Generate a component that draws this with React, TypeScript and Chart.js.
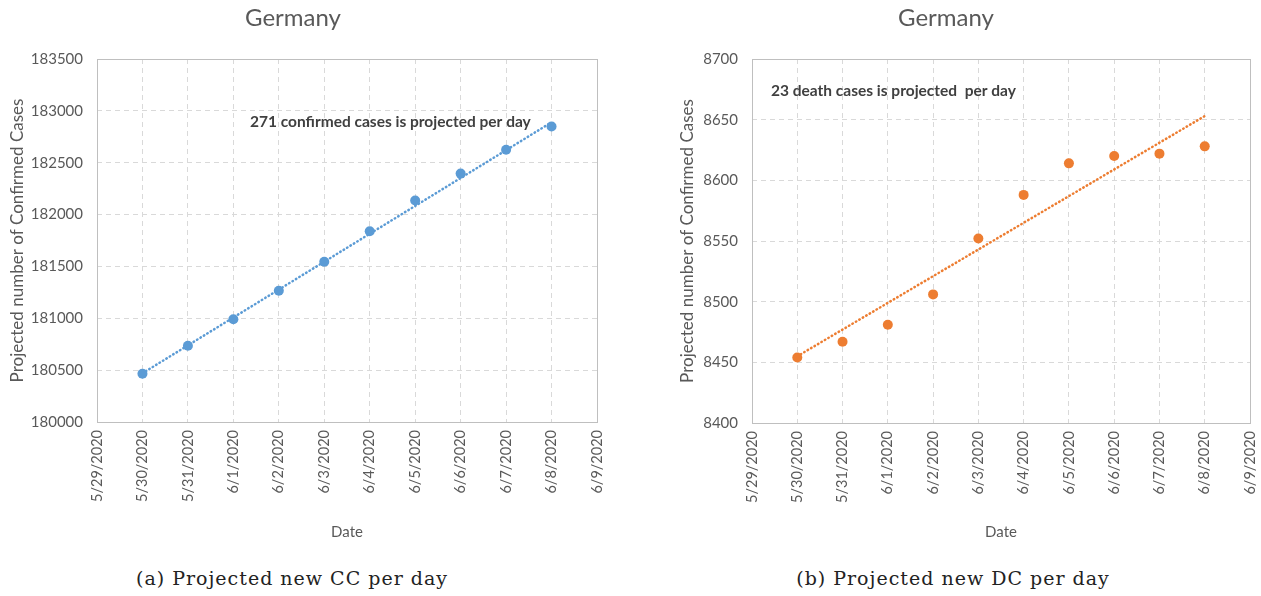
import React, { useEffect, useRef } from 'react';
import { Chart, registerables } from 'chart.js';
Chart.register(...registerables);

const dateLabels = ['5/29/2020', '5/30/2020', '5/31/2020', '6/1/2020', '6/2/2020', '6/3/2020', '6/4/2020', '6/5/2020', '6/6/2020', '6/7/2020', '6/8/2020', '6/9/2020'];

const ccDates = ['5/30/2020', '5/31/2020', '6/1/2020', '6/2/2020', '6/3/2020', '6/4/2020', '6/5/2020', '6/6/2020', '6/7/2020', '6/8/2020'];
const ccValues = [180465, 180735, 180990, 181265, 181545, 181840, 182135, 182395, 182625, 182850];
const ccTrendDates = ['5/30/2020', '6/8/2020'];
const ccTrendValues = [180470, 182890];
const ccYTicks = [180000, 180500, 181000, 181500, 182000, 182500, 183000, 183500];

const dcDates = ['5/30/2020', '5/31/2020', '6/1/2020', '6/2/2020', '6/3/2020', '6/4/2020', '6/5/2020', '6/6/2020', '6/7/2020', '6/8/2020'];
const dcValues = [8454, 8467, 8481, 8506, 8552, 8588, 8614, 8620, 8622, 8628];
const dcTrendDates = ['5/30/2020', '6/8/2020'];
const dcTrendValues = [8455, 8653];
const dcYTicks = [8400, 8450, 8500, 8550, 8600, 8650, 8700];

const FONT = 'Lato';
const GRAY = '#595959';

type PanelProps = {
  left: number;
  width: number;
  padLeft: number;
  yWidth: number;
  padRight: number;
  xHeight: number;
  titleX: number;
  note: string;
  noteDX: number;
  noteDY: number;
  color: string;
  dates: string[];
  values: number[];
  trendDates: string[];
  trendValues: number[];
  yTicks: number[];
  caption: string;
  captionX: number;
};

function Panel(p: PanelProps) {
  const ref = useRef<HTMLCanvasElement>(null);
  useEffect(() => {
    const canvas = ref.current!;
    const decor = {
      id: 'decor',
      afterDraw(chart: any) {
        const { ctx, chartArea } = chart;
        ctx.save();
        ctx.strokeStyle = '#bfbfbf';
        ctx.lineWidth = 1;
        ctx.setLineDash([]);
        ctx.strokeRect(Math.round(chartArea.left) + 0.5, Math.round(chartArea.top) + 0.5, Math.round(chartArea.right - chartArea.left), Math.round(chartArea.bottom - chartArea.top));
        ctx.fillStyle = GRAY;
        ctx.font = `24px ${FONT}`;
        ctx.textAlign = 'center';
        ctx.textBaseline = 'middle';
        ctx.fillText('Germany', p.titleX, 18);
        ctx.fillStyle = '#404040';
        ctx.font = `bold 15.5px ${FONT}`;
        ctx.textAlign = 'left';
        ctx.fillText(p.note, chartArea.left + p.noteDX, chartArea.top + p.noteDY);
        ctx.restore();
      },
    };
    const chart = new Chart(canvas, {
      type: 'scatter',
      data: {
        labels: dateLabels,
        datasets: [
          {
            data: p.dates.map((d, i) => ({ x: d, y: p.values[i] })),
            backgroundColor: p.color,
            borderWidth: 0,
            pointRadius: 5,
            pointBorderWidth: 0,
            showLine: false,
            order: 1,
          },
          {
            data: p.trendDates.map((d, i) => ({ x: d, y: p.trendValues[i] })),
            borderColor: p.color,
            borderWidth: 2.5,
            borderDash: [0.5, 3.5],
            borderCapStyle: 'round',
            pointRadius: 0,
            showLine: true,
            order: 2,
          },
        ],
      } as any,
      options: {
        animation: false,
        responsive: false,
        maintainAspectRatio: false,
        layout: { padding: { left: p.padLeft, right: p.padRight, top: 59, bottom: 0 } },
        plugins: { legend: { display: false }, tooltip: { enabled: false }, title: { display: false } },
        scales: {
          x: {
            type: 'category',
            labels: dateLabels,
            offset: false,
            afterFit: (s: any) => { s.height = p.xHeight; s.paddingLeft = 0; s.paddingRight = 0; },
            grid: { color: '#d9d9d9', drawTicks: false, lineWidth: 1 },
            border: { display: false, dash: [5, 4] },
            ticks: { autoSkip: false, maxRotation: 90, minRotation: 90, padding: 8, color: GRAY, font: { family: FONT, size: 14.5 } },
            title: { display: true, text: 'Date', color: GRAY, font: { family: FONT, size: 15 }, padding: { top: 4, bottom: 19 } },
          },
          y: {
            type: 'linear',
            min: p.yTicks[0],
            max: p.yTicks[p.yTicks.length - 1],
            afterFit: (s: any) => { s.width = p.yWidth; s.paddingTop = 0; s.paddingBottom = 0; },
            grid: { color: '#d9d9d9', drawTicks: false, lineWidth: 1 },
            border: { display: false, dash: [5, 4] },
            ticks: { stepSize: p.yTicks[1] - p.yTicks[0], padding: 14, color: GRAY, font: { family: FONT, size: 15 }, callback: (v: any) => String(v) },
            title: { display: true, text: 'Projected number of Confirmed Cases', color: GRAY, font: { family: FONT, size: 17 }, padding: { top: 7, bottom: 0 } },
          },
        },
      } as any,
      plugins: [decor],
    });
    return () => chart.destroy();
  }, []);
  return (
    <>
      <canvas ref={ref} width={p.width} height={560} style={{ position: 'absolute', left: p.left, top: 0, width: p.width, height: 560 }} />
      <div style={{ position: 'absolute', left: p.captionX - 250, width: 500, top: 567, textAlign: 'center', fontFamily: '"DejaVu Serif", serif', fontSize: 19, letterSpacing: 1, color: '#222', whiteSpace: 'nowrap' }}>{p.caption}</div>
    </>
  );
}

export default function App() {
  return (
    <div style={{ position: 'fixed', left: 0, top: 0, width: 1261, height: 596, background: '#fff', overflow: 'hidden' }}>
      <Panel left={0} width={630} padLeft={0} yWidth={97} padRight={33} xHeight={138} titleX={293}
        note="271 confirmed cases is projected per day" noteDX={153} noteDY={63} color="#5b9bd5"
        dates={ccDates} values={ccValues} trendDates={ccTrendDates} trendValues={ccTrendValues} yTicks={ccYTicks}
        caption="(a) Projected new CC per day" captionX={292} />
      <Panel left={630} width={631} padLeft={40} yWidth={82} padRight={11} xHeight={137} titleX={316}
        note="23 death cases is projected  per day" noteDX={19} noteDY={32} color="#ed7d31"
        dates={dcDates} values={dcValues} trendDates={dcTrendDates} trendValues={dcTrendValues} yTicks={dcYTicks}
        caption="(b) Projected new DC per day" captionX={953} />
    </div>
  );
}
